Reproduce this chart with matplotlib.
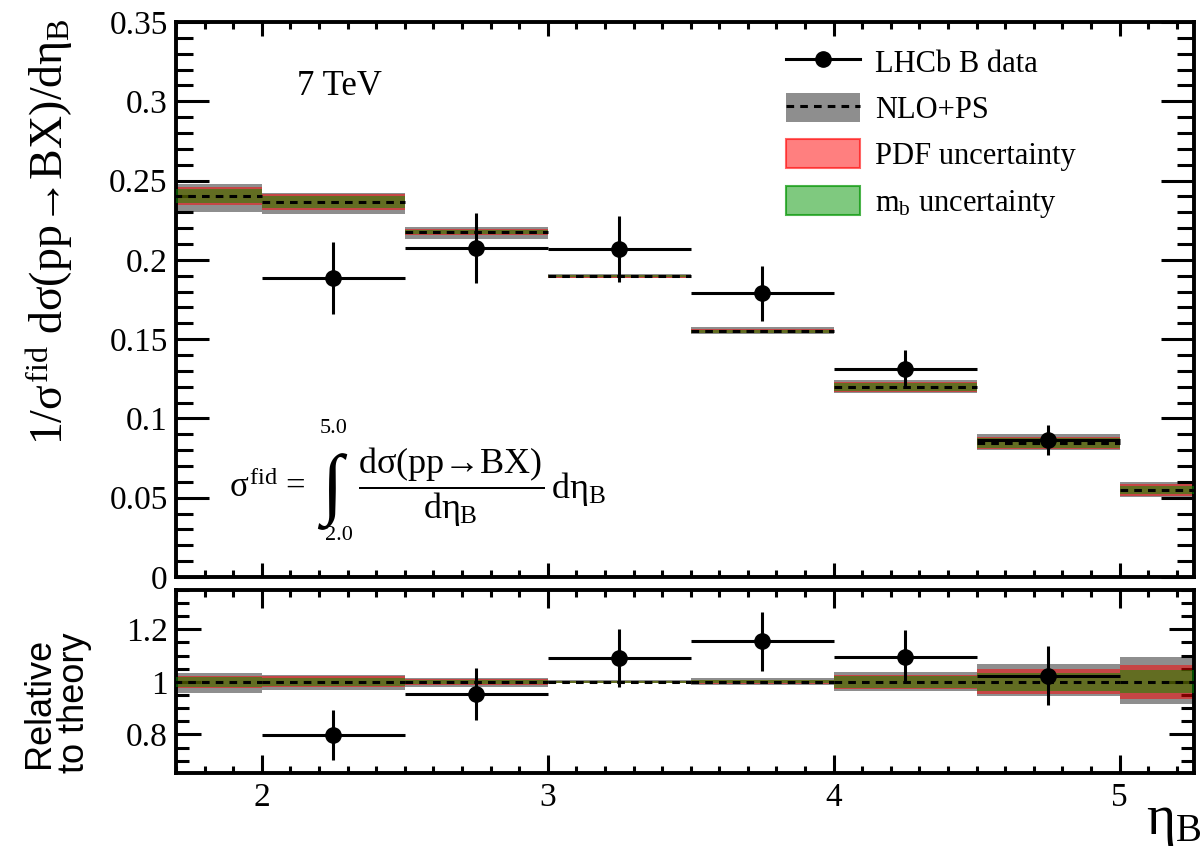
"""LHCb B-hadron pseudorapidity shape at 7 TeV compared with NLO+PS."""
import matplotlib
matplotlib.use('Agg')
import matplotlib.pyplot as plt
import numpy as np
from matplotlib.lines import Line2D
from matplotlib.patches import Patch
from matplotlib.ticker import FuncFormatter, MultipleLocator

plt.rcParams['font.family'] = ['Liberation Serif', 'DejaVu Serif']
plt.rcParams['mathtext.fontset'] = 'custom'
plt.rcParams['mathtext.rm'] = 'Liberation Serif'
plt.rcParams['mathtext.it'] = 'Liberation Serif'
plt.rcParams['mathtext.bf'] = 'Liberation Serif:bold'

# theory histogram (NLO+PS), bin edges in eta_B
theory_edges = [1.5, 2.0, 2.5, 3.0, 3.5, 4.0, 4.5, 5.0, 5.5]
theory_val = [0.2403, 0.2365, 0.2176, 0.1898, 0.1551, 0.1198, 0.0845, 0.0549]
# relative uncertainties
total_up = [0.032, 0.025, 0.015, 0.006, 0.016, 0.036, 0.067, 0.095]
total_dn = [0.042, 0.031, 0.021, 0.006, 0.011, 0.034, 0.053, 0.083]
pdf_rel = [0.023, 0.021, 0.010, 0.005, 0.009, 0.028, 0.048, 0.066]
mb_rel = [0.019, 0.015, 0.007, 0.003, 0.006, 0.022, 0.034, 0.044]

# LHCb data
data_x = [2.25, 2.75, 3.25, 3.75, 4.25, 4.75]
data_xerr = [0.25, 0.25, 0.25, 0.25, 0.25, 0.25]
data_y = [0.1886, 0.2075, 0.2069, 0.1790, 0.1313, 0.0864]
data_err = [0.0225, 0.0218, 0.0209, 0.0173, 0.0120, 0.0095]

GRAY = '#8e8e8e'
RED = (1.0, 0.0, 0.0, 0.5)
GREEN = (0.0, 0.58, 0.0, 0.5)
DASH = (0, (2.5, 2.0))
FS_TICK = 24


def _style(ax, xlen, ylen):
    ax.tick_params(which='both', direction='in', top=True, right=True,
                   width=2.2, labelsize=FS_TICK)
    ax.tick_params(axis='x', which='major', length=xlen[0], pad=7)
    ax.tick_params(axis='x', which='minor', length=xlen[1])
    ax.tick_params(axis='y', which='major', length=ylen[0], pad=6)
    ax.tick_params(axis='y', which='minor', length=ylen[1])
    for s in ax.spines.values():
        s.set_linewidth(2.8)
    ax.xaxis.set_major_locator(MultipleLocator(1))
    ax.xaxis.set_minor_locator(MultipleLocator(0.1))
    ax.yaxis.set_major_formatter(FuncFormatter(lambda v, p: f'{v:g}'))
    ax.xaxis.set_major_formatter(FuncFormatter(lambda v, p: f'{v:g}'))
    ax.set_xlim(1.7, 5.26)


def _bands(ax, centre, up, dn, pdf, mb):
    edges = np.asarray(theory_edges)
    left = edges[:-1]
    width = np.diff(edges)
    ax.bar(left, centre * (up + dn), bottom=centre * (1 - dn), width=width,
           align='edge', color=GRAY, lw=0, zorder=1)
    ax.bar(left, centre * 2 * pdf, bottom=centre * (1 - pdf), width=width,
           align='edge', color=RED, lw=0, zorder=2)
    ax.bar(left, centre * 2 * mb, bottom=centre * (1 - mb), width=width,
           align='edge', color=GREEN, lw=0, zorder=3)
    ax.hlines(centre, left, edges[1:], colors='k', linestyles=DASH, lw=2.2, zorder=4)


def main():
    fig = plt.figure(figsize=(12.03, 8.5), dpi=100)
    ax = fig.add_axes([0.1463, 0.3212, 0.8462, 0.6529])
    rax = fig.add_axes([0.1463, 0.0906, 0.8462, 0.2153])

    theo = np.asarray(theory_val)
    up = np.asarray(total_up)
    dn = np.asarray(total_dn)
    pdf = np.asarray(pdf_rel)
    mb = np.asarray(mb_rel)

    # main panel
    _bands(ax, theo, up, dn, pdf, mb)
    ax.errorbar(data_x, data_y, xerr=data_xerr, yerr=data_err, fmt='o', color='k',
                ms=11, elinewidth=2.2, capsize=0, zorder=5)
    ax.set_ylim(0, 0.35)
    _style(ax, (10, 5), (24, 12))
    ax.yaxis.set_major_locator(MultipleLocator(0.05))
    ax.yaxis.set_minor_locator(MultipleLocator(0.01))
    ax.tick_params(labelbottom=False)

    ax.text(0.119, 0.884, '7 TeV', transform=ax.transAxes, fontsize=25,
            ha='left', va='center')

    # fiducial cross-section definition
    ax.text(0.052, 0.144, r'$\sigma^{fid}$ =', transform=ax.transAxes, fontsize=25,
            ha='left', va='baseline')
    ax.text(0.153, 0.154, '\u222b', transform=ax.transAxes, fontsize=56,
            ha='center', va='center')
    ax.text(0.155, 0.268, '5.0', transform=ax.transAxes, fontsize=16,
            ha='center', va='center')
    ax.text(0.160, 0.075, '2.0', transform=ax.transAxes, fontsize=16,
            ha='center', va='center')
    ax.text(0.179, 0.162,
            r'$\dfrac{d\sigma(pp→BX)}{d\eta_{B}}\,d\eta_{B}$',
            transform=ax.transAxes, fontsize=26, ha='left', va='center')

    handles = [
        Line2D([], [], color='k', marker='o', ms=11, lw=2.2),
        (Patch(facecolor=GRAY, edgecolor='none'),
         Line2D([], [], color='k', ls=DASH, lw=2.2)),
        Patch(facecolor=RED, edgecolor=(1, 0, 0, 0.6), lw=1.5),
        Patch(facecolor=GREEN, edgecolor=(0, 0.58, 0, 0.7), lw=1.5),
    ]
    labels = ['LHCb B data', 'NLO+PS', 'PDF uncertainty', r'm$_{b}$ uncertainty']
    ax.legend(handles, labels, loc='upper left', bbox_to_anchor=(0.599, 0.955),
              frameon=False, fontsize=22, borderpad=0, borderaxespad=0,
              handlelength=2.42, handleheight=1.08, handletextpad=0.5,
              labelspacing=0.47, numpoints=1)

    # ratio panel
    ones = np.ones_like(theo)
    _bands(rax, ones, up, dn, pdf, mb)
    idx = np.searchsorted(theory_edges, data_x) - 1
    ref = theo[idx]
    rax.errorbar(data_x, np.asarray(data_y) / ref, xerr=data_xerr,
                 yerr=np.asarray(data_err) / ref, fmt='o', color='k',
                 ms=11, elinewidth=2.2, capsize=0, zorder=5)
    rax.set_ylim(0.653, 1.35)
    _style(rax, (13, 5), (18, 9.5))
    rax.yaxis.set_major_locator(MultipleLocator(0.2))
    rax.yaxis.set_minor_locator(MultipleLocator(0.05))

    fig.text(0.041, 0.978, r'$1/\sigma^{fid}\ d\sigma(pp→BX)/d\eta_{B}$',
             rotation=90, ha='center', va='top', fontsize=33)
    fig.text(0.047, 0.173, 'Relative\nto theory', rotation=90, ha='center',
             va='center', fontsize=26, family='Liberation Sans', linespacing=1.0)
    fig.text(0.998, 0.002, r'$\eta_{B}$', ha='right', va='bottom', fontsize=40)

    fig.savefig('out.png', dpi=100)
    plt.close(fig)


if __name__ == '__main__':
    main()
